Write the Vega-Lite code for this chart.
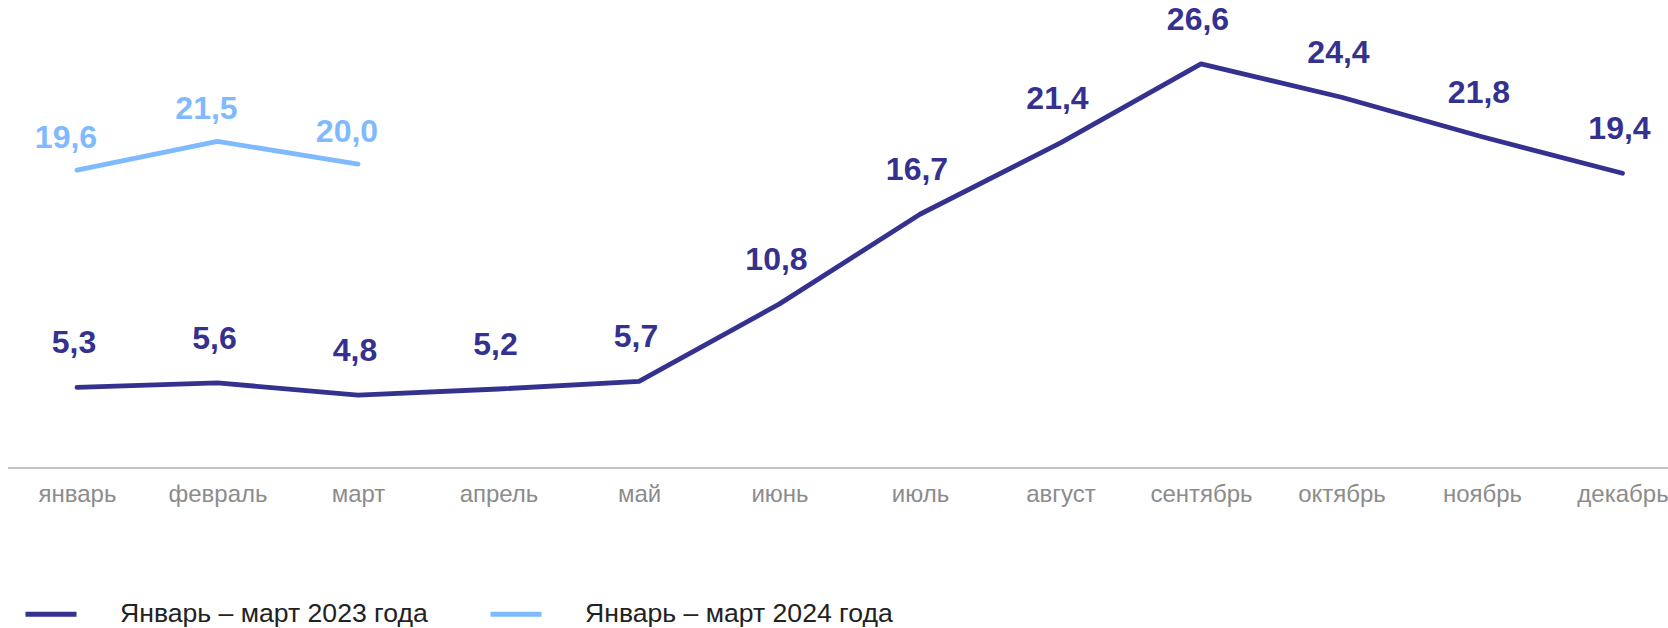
{
  "$schema": "https://vega.github.io/schema/vega-lite/v6.json",
  "width": 1660,
  "height": 468,
  "autosize": {"type": "none"},
  "padding": {"left": 8, "top": 0, "right": 0, "bottom": 160},
  "datasets": {
    "series": [
      {"month": "январь", "series": "Январь – март 2023 года", "value": 5.3},
      {"month": "февраль", "series": "Январь – март 2023 года", "value": 5.6},
      {"month": "март", "series": "Январь – март 2023 года", "value": 4.8},
      {"month": "апрель", "series": "Январь – март 2023 года", "value": 5.2},
      {"month": "май", "series": "Январь – март 2023 года", "value": 5.7},
      {"month": "июнь", "series": "Январь – март 2023 года", "value": 10.8},
      {"month": "июль", "series": "Январь – март 2023 года", "value": 16.7},
      {"month": "август", "series": "Январь – март 2023 года", "value": 21.4},
      {"month": "сентябрь", "series": "Январь – март 2023 года", "value": 26.6},
      {"month": "октябрь", "series": "Январь – март 2023 года", "value": 24.4},
      {"month": "ноябрь", "series": "Январь – март 2023 года", "value": 21.8},
      {"month": "декабрь", "series": "Январь – март 2023 года", "value": 19.4},
      {"month": "январь", "series": "Январь – март 2024 года", "value": 19.6},
      {"month": "февраль", "series": "Январь – март 2024 года", "value": 21.5},
      {"month": "март", "series": "Январь – март 2024 года", "value": 20.0}
    ],
    "base": [{"baseline": 0}]
  },
  "layer": [
    {
      "data": {"name": "base"},
      "mark": {"type": "rule", "color": "#c4c4c4", "strokeWidth": 2},
      "encoding": {
        "y": {"field": "baseline", "type": "quantitative", "scale": {"domain": [0, 30.8], "nice": false, "zero": true}, "axis": null}
      }
    },
    {
      "data": {"name": "series"},
      "mark": {"type": "line", "strokeWidth": 4.8, "strokeCap": "round", "strokeJoin": "round"},
      "encoding": {
        "x": {
          "field": "month", "type": "ordinal",
          "sort": ["январь", "февраль", "март", "апрель", "май", "июнь", "июль", "август", "сентябрь", "октябрь", "ноябрь", "декабрь"],
          "scale": {"type": "point", "range": [69, 1614.5], "padding": 0},
          "axis": {"title": null, "labelAngle": 0, "domain": false, "ticks": false, "grid": false, "labelFontSize": 24, "labelColor": "#8c8c8c", "labelPadding": 14, "labelFont": "Liberation Sans"}
        },
        "y": {"field": "value", "type": "quantitative", "scale": {"domain": [0, 30.8], "nice": false, "zero": true}, "axis": null},
        "color": {
          "field": "series", "type": "nominal",
          "scale": {"domain": ["Январь – март 2023 года", "Январь – март 2024 года"], "range": ["#35318f", "#7fbaff"]},
          "legend": {
            "title": null, "orient": "none", "legendX": 15, "legendY": 586, "direction": "horizontal",
            "symbolType": "stroke", "symbolSize": 2601, "symbolStrokeWidth": 5,
            "labelFontSize": 26.6, "labelColor": "#222222", "labelOffset": 41, "columnPadding": 52, "labelLimit": 500,
            "labelFont": "Liberation Sans"
          }
        }
      }
    },
    {
      "data": {"name": "series"},
      "transform": [{"filter": "datum.series === 'Январь – март 2023 года'"}],
      "mark": {"type": "text", "dy": -44, "dx": -3, "fontSize": 32, "fontWeight": "bold", "color": "#35318f", "baseline": "middle", "font": "Liberation Sans"},
      "encoding": {
        "x": {"field": "month", "type": "ordinal", "sort": ["январь", "февраль", "март", "апрель", "май", "июнь", "июль", "август", "сентябрь", "октябрь", "ноябрь", "декабрь"]},
        "y": {"field": "value", "type": "quantitative"},
        "text": {"field": "value", "type": "quantitative", "format": ".1f"}
      }
    },
    {
      "data": {"name": "series"},
      "transform": [{"filter": "datum.series === 'Январь – март 2024 года'"}],
      "mark": {"type": "text", "dy": -32, "dx": -11, "fontSize": 32, "fontWeight": "bold", "color": "#7fbaff", "baseline": "middle", "font": "Liberation Sans"},
      "encoding": {
        "x": {"field": "month", "type": "ordinal", "sort": ["январь", "февраль", "март", "апрель", "май", "июнь", "июль", "август", "сентябрь", "октябрь", "ноябрь", "декабрь"]},
        "y": {"field": "value", "type": "quantitative"},
        "text": {"field": "value", "type": "quantitative", "format": ".1f"}
      }
    }
  ],
  "config": {"view": {"stroke": null}, "font": "Liberation Sans", "locale": {"number": {"decimal": ",", "thousands": " ", "grouping": [3], "currency": ["", " ₽"]}}}
}
